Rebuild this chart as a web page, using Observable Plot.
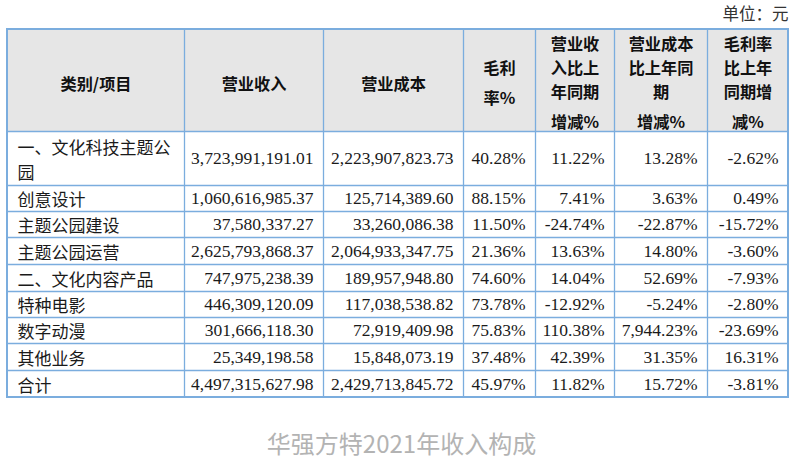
<!DOCTYPE html>
<html><head><meta charset="utf-8">
<script src="https://cdn.jsdelivr.net/npm/d3@7"></script>
<script src="https://cdn.jsdelivr.net/npm/@observablehq/plot@0.6"></script>
<style>body{margin:0;background:#fff}#chart svg{display:block}</style>
</head><body><div id="chart"></div>
<script>
// ---- data ----
const categories = ["一、文化科技主题公园","创意设计","主题公园建设","主题公园运营","二、文化内容产品","特种电影","数字动漫","其他业务","合计"];
const revenue = [3723991191.01, 1060616985.37, 37580337.27, 2625793868.37, 747975238.39, 446309120.09, 301666118.30, 25349198.58, 4497315627.98];
const cost = [2223907823.73, 125714389.60, 33260086.38, 2064933347.75, 189957948.80, 117038538.82, 72919409.98, 15848073.19, 2429713845.72];
const grossMargin = [40.28, 88.15, 11.50, 21.36, 74.60, 73.78, 75.83, 37.48, 45.97];
const revenueChange = [11.22, 7.41, -24.74, 13.63, 14.04, -12.92, 110.38, 42.39, 11.82];
const costChange = [13.28, 3.63, -22.87, 14.80, 52.69, -5.24, 7944.23, 31.35, 15.72];
const marginChange = [-2.62, 0.49, -15.72, -3.60, -7.93, -2.80, -23.69, 16.31, -3.81];
const headerLabels = [["类别/项目"],["营业收入"],["营业成本"],["毛利","率%"],["营业收","入比上","年同期","增减%"],["营业成本","比上年同","期","增减%"],["毛利率","比上年","同期增","减%"]];
const unitLabel = "单位：元";
const caption = "华强方特2021年收入构成";

// ---- layout ----
const tLeft = 7, tTop = 29;
const colWidths = [177, 139, 140, 72, 79, 93, 81];
const rowHeights = [102, 54, 26, 26, 27, 27, 26, 26, 27, 27];
const colEdges = [tLeft]; colWidths.forEach(w => colEdges.push(colEdges[colEdges.length-1] + w));
const rowEdges = [tTop]; rowHeights.forEach(h => rowEdges.push(rowEdges[rowEdges.length-1] + h));
const tRight = colEdges[colEdges.length-1], tBottom = rowEdges[rowEdges.length-1];
const pad = 10;
const blue = "#7badde";
const serif = "'Liberation Serif','Times New Roman',serif";
const cjk = "'Noto Sans CJK SC','Noto Sans',sans-serif";
const headSize = 16.2, headStep = 23.6, headLastGap = 30;

const fmtNum = d3.format(",.2f");
const fmtNumber = v => fmtNum(v).replace("−","-");
const fmtPct = v => fmtNum(v).replace("−","-") + "%";

const wrap = (s, n) => s.length > n ? s.slice(0, n) + "\n" + s.slice(n) : s;

// body cells
const numericCols = [revenue.map(fmtNumber), cost.map(fmtNumber), grossMargin.map(fmtPct), revenueChange.map(fmtPct), costChange.map(fmtPct), marginChange.map(fmtPct)];
const catCells = categories.map((c, i) => ({text: wrap(c, 9), x: colEdges[0] + pad, y: (rowEdges[i+1] + rowEdges[i+2]) / 2}));
const numCells = [];
numericCols.forEach((col, c) => col.forEach((t, i) => numCells.push({text: t, x: colEdges[c+2] - pad, y: (rowEdges[i+1] + rowEdges[i+2]) / 2})));

// header cells: upper lines as one block, last line separate with extra spacing
const headerCells = [];
const hCenter = (rowEdges[0] + rowEdges[1]) / 2 + 1;
headerLabels.forEach((lines, c) => {
  const n = lines.length;
  const cx = (colEdges[c] + colEdges[c+1]) / 2;
  if (n === 1) { headerCells.push({text: lines[0], x: cx, y: hCenter + 1}); return; }
  const span = headStep * (n - 2) + headLastGap;
  const start = hCenter - span / 2;
  headerCells.push({text: lines.slice(0, -1).join("\n"), x: cx, y: start + headStep * (n - 2) / 2});
  headerCells.push({text: lines[n - 1], x: cx, y: start + span});
});

const chart = Plot.plot({
  width: 794, height: 470,
  marginTop: 0, marginRight: 0, marginBottom: 0, marginLeft: 0,
  x: {type: "identity", axis: null},
  y: {type: "identity", axis: null},
  marks: [
    Plot.rect([0], {x1: tLeft, x2: tRight, y1: rowEdges[0], y2: rowEdges[1], fill: "#e6e6e6"}),
    Plot.ruleX(colEdges.slice(1, -1), {y1: tTop, y2: tBottom, stroke: blue, strokeWidth: 1.3}),
    Plot.ruleY(rowEdges.slice(1, -1), {x1: tLeft, x2: tRight, stroke: blue, strokeWidth: 1.3}),
    Plot.rect([0], {x1: tLeft, x2: tRight, y1: tTop, y2: tBottom, fill: "none", stroke: blue, strokeWidth: 2}),
    Plot.text(headerCells, {x: "x", y: "y", text: "text", fontFamily: cjk, fontWeight: "bold", fontSize: headSize, lineHeight: headStep / headSize, fill: "#111"}),
    Plot.text(catCells, {x: "x", y: "y", text: "text", textAnchor: "start", fontFamily: cjk, fontSize: 17, lineHeight: 1.45, fill: "#1a1a1a"}),
    Plot.text(numCells, {x: "x", y: "y", text: "text", textAnchor: "end", fontFamily: serif, fontSize: 17.5, fill: "#1a1a1a"}),
    Plot.text([unitLabel], {x: tRight, y: 14, text: d => d, textAnchor: "end", fontFamily: cjk, fontSize: 16.5, fill: "#333"}),
    Plot.text([caption], {x: 401, y: 445, text: d => d, fontFamily: cjk, fontSize: 24, fill: "#b3b3b3"})
  ]
});
document.getElementById("chart").append(chart);
</script>
</body></html>
